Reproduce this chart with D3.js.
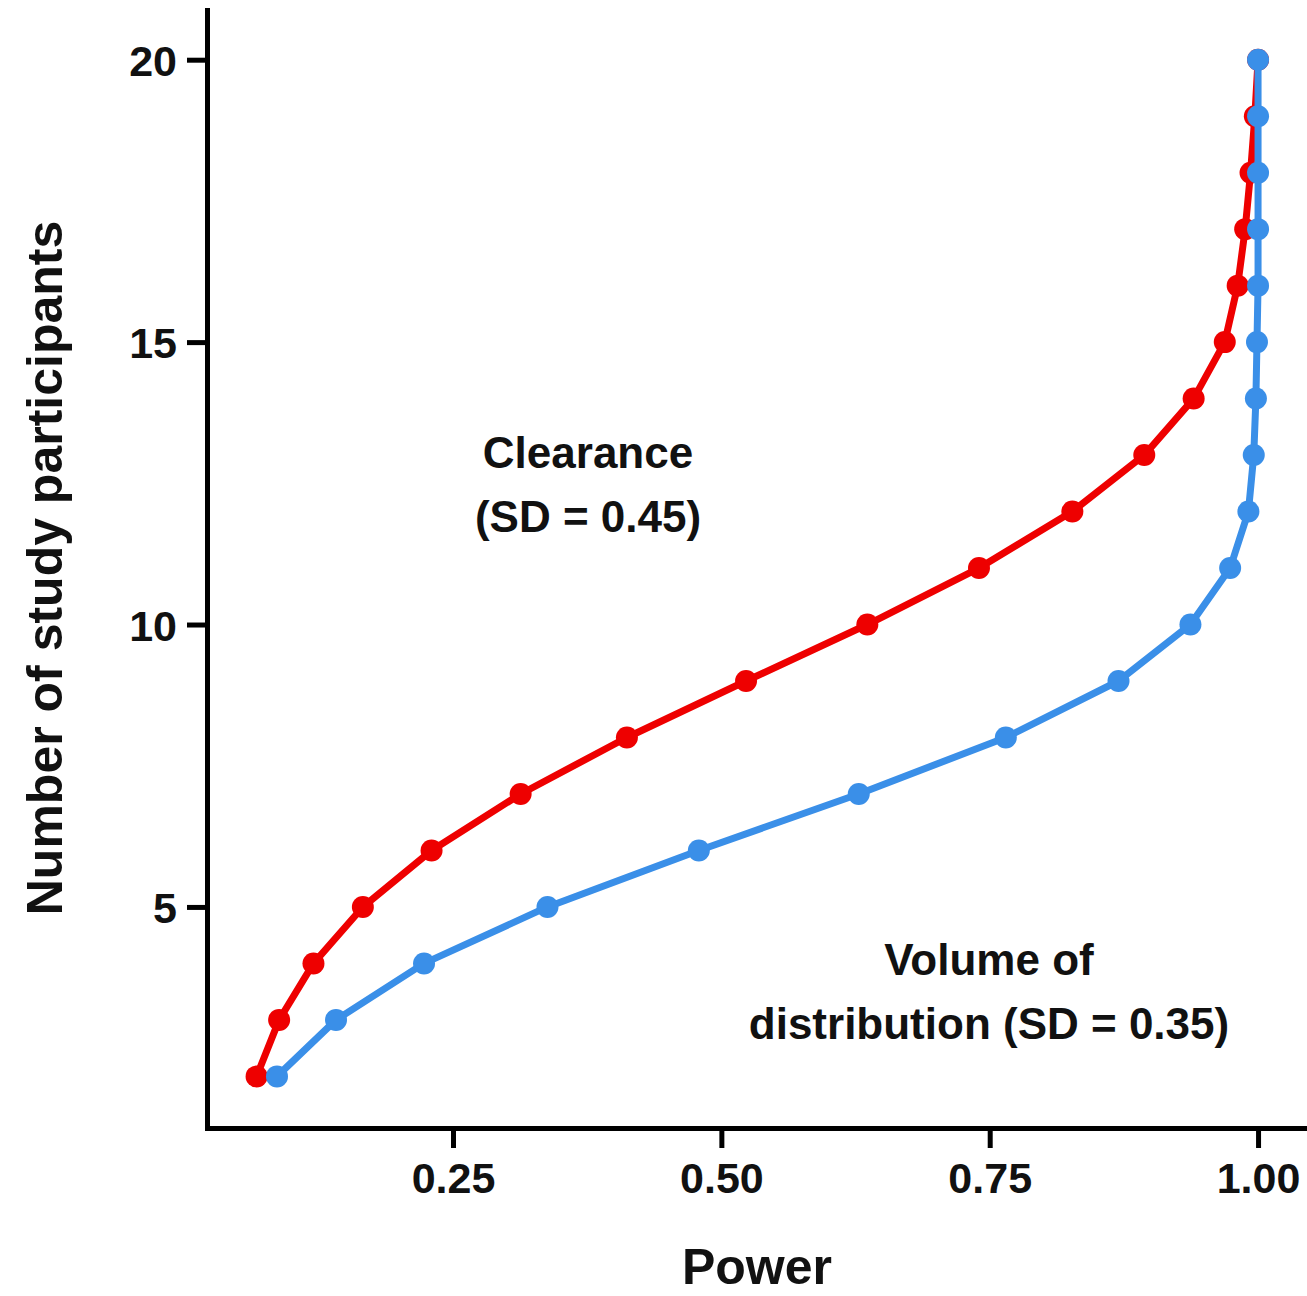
<!DOCTYPE html>
<html>
<head>
<meta charset="utf-8">
<script src="https://cdn.jsdelivr.net/npm/d3@7"></script>
<style>
  body { margin: 0; background: #fff; }
  text { font-family: "Liberation Sans", Arial, sans-serif; font-weight: bold; fill: #111; }
</style>
</head>
<body>
<script>
// sample sizes (y) and power (x) for each parameter
const participants = [2, 3, 4, 5, 6, 7, 8, 9, 10, 11, 12, 13, 14, 15, 16, 17, 18, 19, 20];
const clearancePower = [0.067, 0.088, 0.120, 0.166, 0.230, 0.313, 0.412, 0.523, 0.636, 0.740,
  0.827, 0.894, 0.940, 0.969, 0.981, 0.988, 0.993, 0.997, 1.0];
const volumePower = [0.086, 0.141, 0.223, 0.338, 0.479, 0.628, 0.765, 0.870, 0.937, 0.974,
  0.991, 0.996, 0.998, 0.999, 1.0, 1.0, 1.0, 1.0, 1.0];
const xTicks = [0.25, 0.50, 0.75, 1.00];
const yTicks = [5, 10, 15, 20];

const width = 1307, height = 1296;

const svg = d3.select("body").append("svg")
  .attr("width", width)
  .attr("height", height);

const x = d3.scaleLinear().domain([0.0208, 1.0456]).range([207, 1307]);
const y = d3.scaleLinear().domain([1.086, 20.88]).range([1128, 10]);

// axes
const xAxis = svg.append("g")
  .attr("transform", "translate(0,1128)")
  .call(d3.axisBottom(x).tickValues(xTicks).tickFormat(d3.format(".2f")).tickSize(20).tickSizeOuter(0).tickPadding(8));

const yAxis = svg.append("g")
  .attr("transform", "translate(207,0)")
  .call(d3.axisLeft(y).tickValues(yTicks).tickSize(20).tickSizeOuter(0).tickPadding(10));

[xAxis, yAxis].forEach(g => {
  g.select(".domain").attr("stroke", "#000").attr("stroke-width", 5).attr("stroke-linecap", "square");
  g.selectAll(".tick line").attr("stroke", "#000").attr("stroke-width", 5);
  g.selectAll(".tick text").style("font-size", "43px").attr("fill", "#111");
});
xAxis.selectAll(".tick text").attr("dy", "0.86em");
yAxis.selectAll(".tick text").attr("dy", "0.36em");

// series
const series = [
  { name: "clearance", values: clearancePower, color: "#ee0000" },
  { name: "volume", values: volumePower, color: "#3a8fe8" }
];

const line = d3.line()
  .x(d => x(d[0]))
  .y(d => y(d[1]));

series.forEach(s => {
  const pts = participants.map((n, i) => [s.values[i], n]);
  svg.append("path")
    .datum(pts)
    .attr("fill", "none")
    .attr("stroke", s.color)
    .attr("stroke-width", 7)
    .attr("stroke-linejoin", "round")
    .attr("d", line);
  svg.append("g").selectAll("circle")
    .data(pts)
    .enter().append("circle")
    .attr("cx", d => x(d[0]))
    .attr("cy", d => y(d[1]))
    .attr("r", 11)
    .attr("fill", s.color);
});

// annotations
const notes = [
  { lines: ["Clearance", "(SD = 0.45)"], cx: 588, y0: 468 },
  { lines: ["Volume of", "distribution (SD = 0.35)"], cx: 989, y0: 975 }
];
notes.forEach(n => {
  n.lines.forEach((t, i) => {
    svg.append("text")
      .attr("x", n.cx)
      .attr("y", n.y0 + i * 64)
      .attr("text-anchor", "middle")
      .style("font-size", "44px")
      .text(t);
  });
});

// axis titles
svg.append("text")
  .attr("x", 757)
  .attr("y", 1284)
  .attr("text-anchor", "middle")
  .style("font-size", "50px")
  .text("Power");

svg.append("text")
  .attr("transform", "translate(62,568) rotate(-90)")
  .attr("text-anchor", "middle")
  .style("font-size", "50px")
  .text("Number of study participants");
</script>
</body>
</html>
